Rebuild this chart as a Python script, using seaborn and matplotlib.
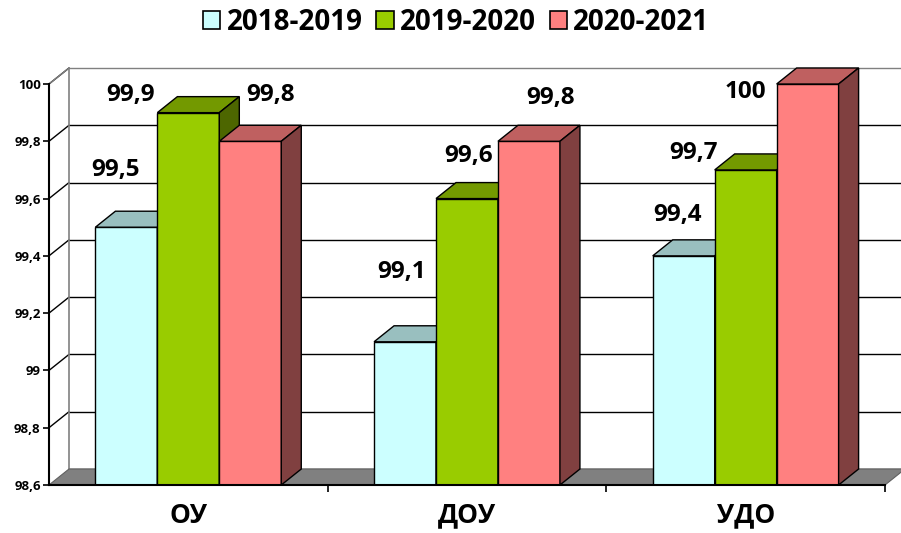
import matplotlib
matplotlib.use("Agg")
import matplotlib.pyplot as plt
import seaborn as sns
import pandas as pd
import numpy as np
from matplotlib.patches import Polygon, Patch
from matplotlib.colors import to_rgb

# ---- data ----
categories = ["ОУ", "ДОУ", "УДО"]
periods = ["2018-2019", "2019-2020", "2020-2021"]
values_2018_2019 = [99.5, 99.1, 99.4]
values_2019_2020 = [99.9, 99.6, 99.7]
values_2020_2021 = [99.8, 99.8, 100.0]
value_labels = [["99,5", "99,1", "99,4"],
                ["99,9", "99,6", "99,7"],
                ["99,8", "99,8", "100"]]
y_ticks = [98.6, 98.8, 99.0, 99.2, 99.4, 99.6, 99.8, 100.0]
y_tick_labels = ["98,6", "98,8", "99", "99,2", "99,4", "99,6", "99,8", "100"]

# ---- style ----
front_colors = ["#CCFFFF", "#99CC00", "#FF8080"]
# label offsets in pixels (dx, dy up) relative to bar front top centre
label_offsets = [[(-11, 57), (-3, 70), (-6, 41)],
                 [(-58, 18), (2, 43), (-52, 17)],
                 [(20, 46), (22, 43), (-62, -8)]]
DX, DY = 20, 16  # depth offset in pixels

sns.set_theme(style="white")
plt.rcParams["font.family"] = ["Open Sans", "DejaVu Sans"]
plt.rcParams["text.color"] = "black"
plt.rcParams["xtick.color"] = "black"
plt.rcParams["ytick.color"] = "black"

df = pd.DataFrame({
    "cat": categories * 3,
    "period": [p for p in periods for _ in categories],
    "val": values_2018_2019 + values_2019_2020 + values_2020_2021,
})

W, H = 901, 533
fig = plt.figure(figsize=(W / 100, H / 100), dpi=100)
x_left, x_right, y_bot, y_top = 49, 885, 485, 84
ax = fig.add_axes([x_left / W, 1 - y_bot / H, (x_right - x_left) / W, (y_bot - y_top) / H])

sns.barplot(data=df, x="cat", y="val", hue="period", order=categories,
            hue_order=periods, palette=front_colors, saturation=1,
            width=0.667, edgecolor="black", linewidth=1, legend=False, ax=ax)
ax.set_xlim(-0.5, 2.5)
ax.set_ylim(98.6, 100.0)

# pixel -> data conversion
sx = 3.0 / (x_right - x_left)
sy = 1.4 / (y_bot - y_top)
dxd, dyd = DX * sx, DY * sy


def shade(c, f):
    r, g, b = to_rgb(c)
    return (r * f, g * f, b * f)


bars = list(ax.patches)

# back wall, gridlines, side wall, floor
ymin = 98.6
xr_end = 2.5 + 30 * sx
for t in y_ticks:
    col = "#808080" if t == y_ticks[-1] else "black"
    ax.plot([-0.5 + dxd, xr_end], [t + dyd, t + dyd], color=col, lw=1,
            zorder=1, clip_on=False)
    if t != ymin:
        ax.plot([-0.5, -0.5 + dxd], [t, t + dyd], color="black", lw=1,
                zorder=1, clip_on=False)
ax.plot([-0.5, -0.5 + dxd], [100.0, 100.0 + dyd], color="#808080", lw=1,
        zorder=1, clip_on=False)
ax.plot([-0.5 + dxd, -0.5 + dxd], [ymin + dyd, 100.0 + dyd], color="#808080",
        lw=1.2, zorder=1, clip_on=False)
floor = Polygon([(-0.5, ymin), (2.5, ymin), (2.5 + dxd, ymin + dyd),
                 (xr_end, ymin + dyd), (-0.5 + dxd, ymin + dyd)], closed=True,
                facecolor="#808080", edgecolor="#606060", lw=0.8, zorder=1.5,
                clip_on=False)
ax.add_patch(floor)

# 3D faces for bars + value labels
for i, p in enumerate(bars):
    h = i // 3
    j = i % 3
    p.set_zorder(3 + h)
    x0 = p.get_x()
    x1 = x0 + p.get_width()
    y1 = p.get_y() + p.get_height()
    c = front_colors[h]
    top = Polygon([(x0, y1), (x1, y1), (x1 + dxd, y1 + dyd), (x0 + dxd, y1 + dyd)],
                  closed=True, facecolor=shade(c, 0.75), edgecolor="black",
                  lw=1, zorder=3.5 + h, clip_on=False)
    side = Polygon([(x1, ymin), (x1, y1), (x1 + dxd, y1 + dyd), (x1 + dxd, ymin + dyd)],
                   closed=True, facecolor=shade(c, 0.5), edgecolor="black",
                   lw=1, zorder=3.5 + h, clip_on=False)
    ax.add_patch(top)
    ax.add_patch(side)
    ox, oy = label_offsets[h][j]
    ax.annotate(value_labels[h][j], xy=((x0 + x1) / 2, y1),
                xytext=(ox * 0.72, oy * 0.72), textcoords="offset points",
                ha="center", va="center", fontsize=17.5, fontweight="bold",
                color="black", zorder=10, annotation_clip=False)

# axes styling
for s in ["top", "right"]:
    ax.spines[s].set_visible(False)
for s in ["left", "bottom"]:
    ax.spines[s].set_color("black")
    ax.spines[s].set_linewidth(1.5)
    ax.spines[s].set_zorder(8)
ax.set_yticks(y_ticks)
ax.set_yticklabels(y_tick_labels, fontsize=9.5, fontweight="bold")
ax.tick_params(axis="y", direction="out", length=4, width=1.2, color="black",
               left=True, pad=2, labelcolor="black")
ax.set_xticks([0, 1, 2])
ax.set_xticklabels(categories, fontsize=19, fontweight="bold")
ax.set_xticks([0.5, 1.5, 2.5], minor=True)
ax.tick_params(axis="x", which="major", length=0, pad=12, labelcolor="black")
ax.tick_params(axis="x", which="minor", direction="out", length=5, width=1.2,
               color="black", bottom=True)
ax.set_xlabel("")
ax.set_ylabel("")
ax.grid(False)

handles = [Patch(facecolor=c, edgecolor="black", lw=1.2) for c in front_colors]
fig.legend(handles, periods, loc="center", bbox_to_anchor=(456 / W, 1 - 22 / H),
           ncol=3, frameon=False, prop={"size": 20, "weight": "bold"},
           handlelength=0.62, handleheight=0.62, handletextpad=0.22,
           columnspacing=0.5, labelcolor="black")

fig.savefig("out.png", dpi=100)
